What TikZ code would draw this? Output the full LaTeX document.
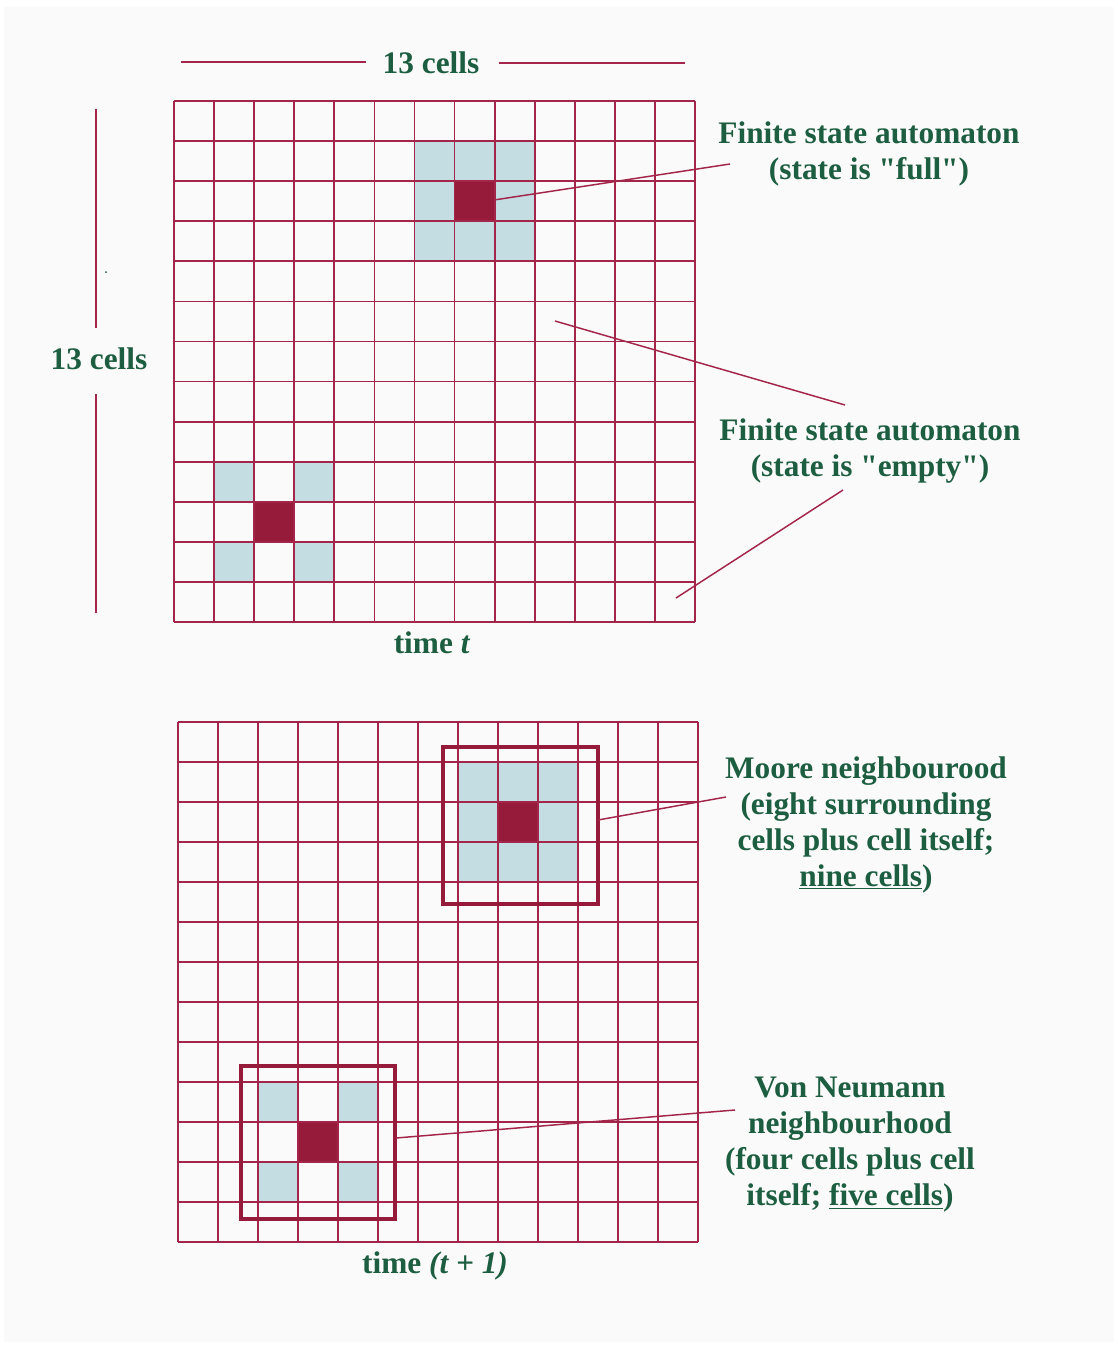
\documentclass[tikz,border=0pt]{standalone}
\usepackage{fontspec}
\setmainfont{Liberation Serif}[Ligatures=TeXOff]
\definecolor{gridred}{HTML}{A3254A}
\definecolor{darkcell}{HTML}{961A3A}
\definecolor{lblue}{HTML}{C4DDE3}
\definecolor{txtgreen}{HTML}{1D5E40}
\definecolor{bggray}{HTML}{FAFAFA}
\begin{document}
\begin{tikzpicture}[x=0.75pt,y=-0.75pt,
  gridline/.style={draw=gridred,line width=1.3pt},
  leader/.style={draw=gridred,line width=1.1pt},
  nbox/.style={draw=darkcell,line width=3pt},
  lbl/.style={text=txtgreen,font=\fontsize{23.5}{27}\selectfont\bfseries,align=center,inner sep=0pt}]
\useasboundingbox (0,0) rectangle (1117,1345);
\fill[white] (0,0) rectangle (1117,1345);
\fill[bggray] (4,7) rectangle (1114,1342);

% ---------- top grid (time t) ----------
\begin{scope}[shift={(174,101)},x=30.06pt,y=-30.06pt]
  \fill[lblue] (6,1) rectangle (9,4);
  \fill[darkcell] (7,2) rectangle (8,3);
  \fill[lblue] (1,9) rectangle (2,10);
  \fill[lblue] (3,9) rectangle (4,10);
  \fill[lblue] (1,11) rectangle (2,12);
  \fill[lblue] (3,11) rectangle (4,12);
  \fill[darkcell] (2,10) rectangle (3,11);
  \foreach \i in {0,...,13} {
    \draw[gridline] (\i,0) -- (\i,13);
    \draw[gridline] (0,\i) -- (13,\i);
  }
\end{scope}

% ---------- bottom grid (time t+1) ----------
\begin{scope}[shift={(178,722)},x=30pt,y=-30pt]
  \fill[lblue] (7,1) rectangle (10,4);
  \fill[darkcell] (8,2) rectangle (9,3);
  \fill[lblue] (2,9) rectangle (3,10);
  \fill[lblue] (4,9) rectangle (5,10);
  \fill[lblue] (2,11) rectangle (3,12);
  \fill[lblue] (4,11) rectangle (5,12);
  \fill[darkcell] (3,10) rectangle (4,11);
  \foreach \i in {0,...,13} {
    \draw[gridline] (\i,0) -- (\i,13);
    \draw[gridline] (0,\i) -- (13,\i);
  }
  \draw[nbox] (6.62,0.62) rectangle (10.5,4.55);
  \draw[nbox] (1.58,8.6) rectangle (5.43,12.43);
\end{scope}

% ---------- dimension labels ----------
\node[lbl] (topcells) at (431,63) {13 cells};
\node[lbl] (leftcells) at (99,359) {13 cells};
\coordinate (tl1) at (181,62); \coordinate (tl2) at (366,62);
\coordinate (tr1) at (499,63); \coordinate (tr2) at (685,63);
\draw[leader] (tl1) -- (tl2);
\draw[leader] (tr1) -- (tr2);
\coordinate (lv1) at (96,109); \coordinate (lv2) at (96,328);
\coordinate (lv3) at (96,394); \coordinate (lv4) at (96,613);
\draw[leader] (lv1) -- (lv2);
\draw[leader] (lv3) -- (lv4);
\fill[txtgreen] (106,272) circle (1);

% ---------- callouts ----------
\node[lbl] (full) at (869,154) {Finite state automaton\\(state is "full")};
\node[lbl] (empty) at (870,451) {Finite state automaton\\(state is "empty")};
\node[lbl] (moore) at (866,825) {Moore neighbourood\\(eight surrounding\\cells plus cell itself;\\\underline{nine cells})};
\node[lbl] (vonn) at (850,1145) {Von Neumann\\neighbourhood\\(four cells plus cell\\itself; \underline{five cells})};
\node[lbl] (timet) at (432,643) {time \textit{t}};
\node[lbl] (timet1) at (435,1266) {time \textit{(t + 1)}};

\coordinate (f1) at (494,200); \coordinate (f2) at (730,164);
\draw[leader] (f1) -- (f2);
\coordinate (e1) at (555,321); \coordinate (e2) at (845,405);
\draw[leader] (e1) -- (e2);
\coordinate (e3) at (843,490); \coordinate (e4) at (676,598);
\draw[leader] (e3) -- (e4);
\coordinate (m1) at (598,820); \coordinate (m2) at (726,797);
\draw[leader] (m1) -- (m2);
\coordinate (v1) at (396,1138); \coordinate (v2) at (735,1110);
\draw[leader] (v1) -- (v2);
\end{tikzpicture}
\end{document}
